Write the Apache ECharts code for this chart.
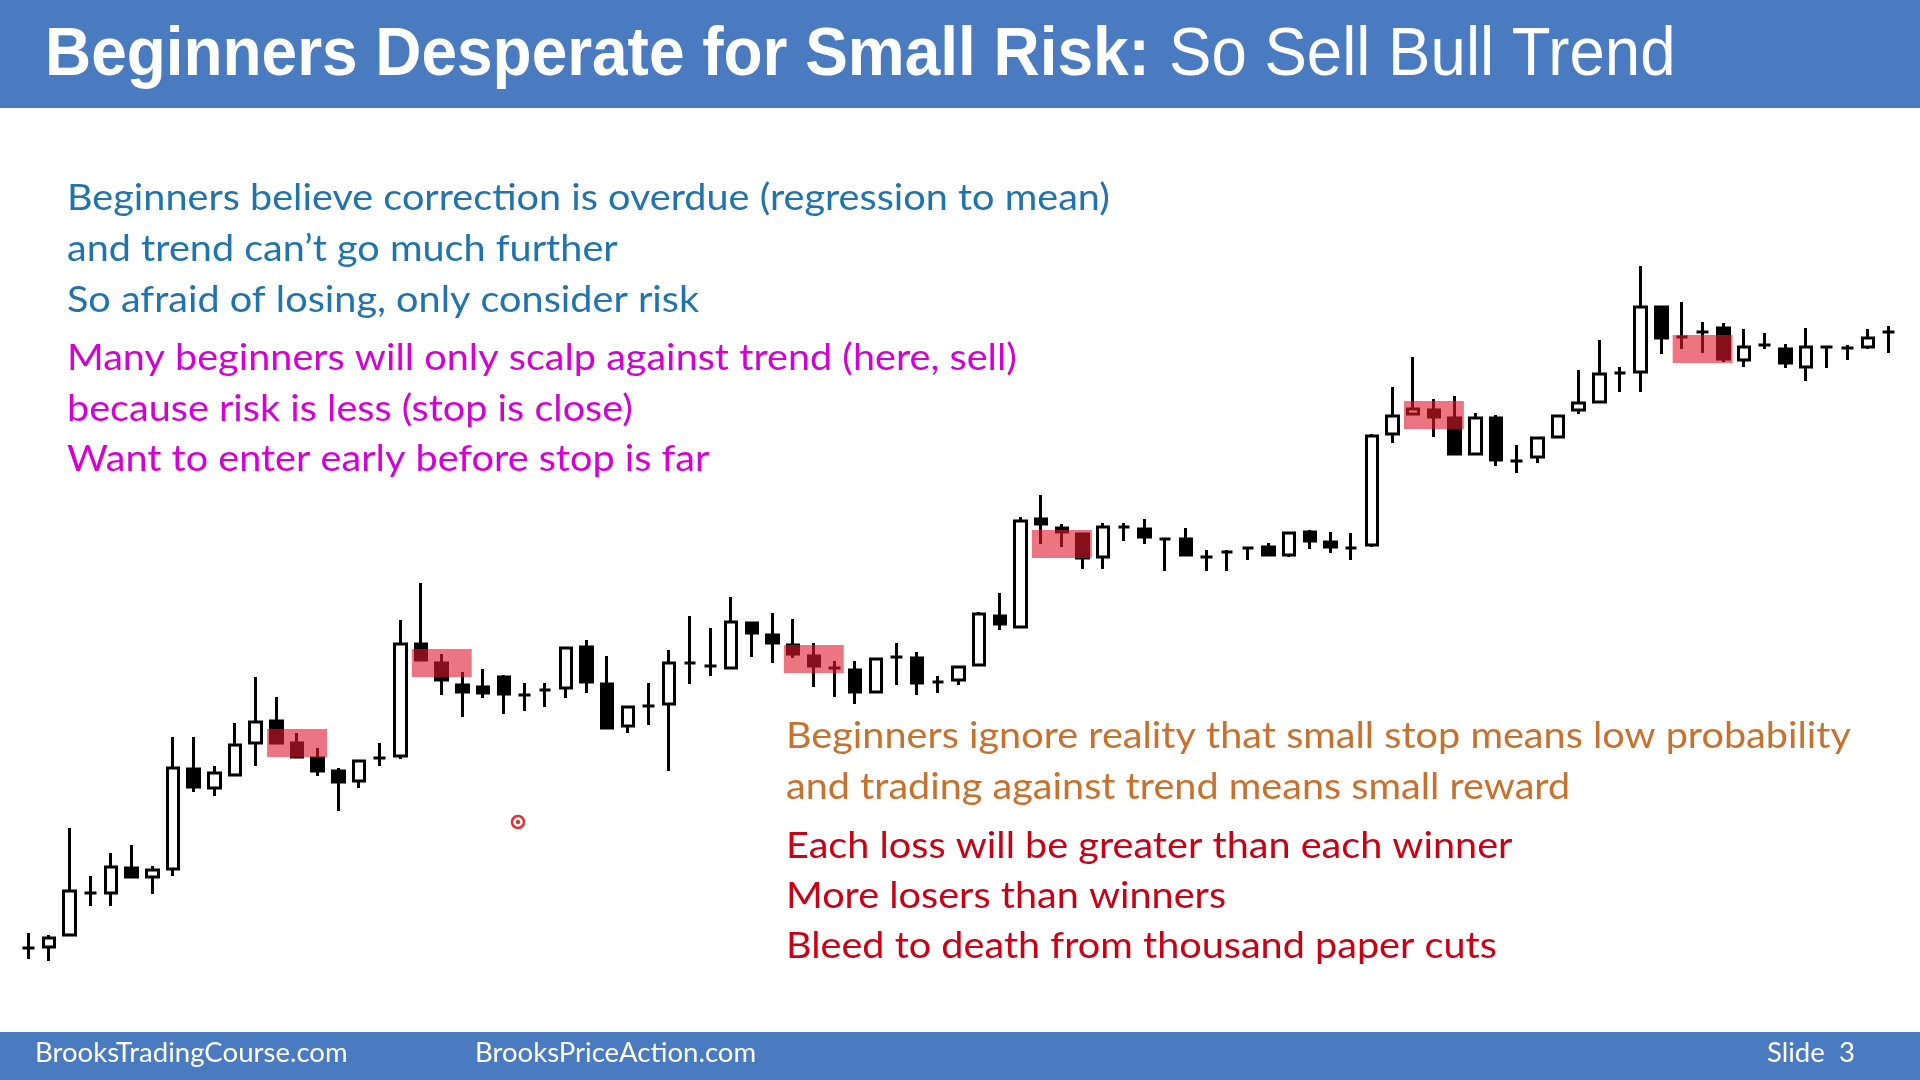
<!DOCTYPE html>
<html>
<head>
    <meta charset="utf-8">
    <title>Beginners Desperate for Small Risk</title>
    <script src="https://cdn.jsdelivr.net/npm/echarts@6/dist/echarts.min.js"></script>
    <style>
        html, body { margin: 0; padding: 0; background: #fff; }
        #main { width: 1920px; height: 1080px; }
    </style>
</head>
<body>
<div id="main"></div>
<script type="text/javascript">
    // bar prices (arbitrary units, higher = up)
    var open  = [52, 53, 65, 107, 107, 132, 123, 131, 231, 212, 225, 257, 279, 257, 242, 229, 219, 242, 244, 356,
                 337, 315, 313, 323, 305, 310, 312, 353, 316, 274, 294, 296, 337, 334, 332, 377, 365, 355, 344, 332,
                 330, 308, 343, 342, 318, 320, 335, 384, 373, 481, 472, 466, 443, 473, 471, 461, 461, 443, 448, 452,
                 453, 445, 468, 458, 452, 455, 566, 586, 590, 582, 546, 582, 539, 543, 563, 590, 598, 627, 628, 693,
                 663, 668, 672, 640, 655, 651, 633, 653, 652, 653, 668];
    var close = [52, 62, 109, 107, 133, 123, 130, 232, 213, 227, 255, 278, 257, 243, 229, 218, 239, 242, 356, 340,
                 320, 308, 307, 306, 305, 310, 352, 318, 272, 293, 294, 337, 337, 334, 378, 367, 357, 346, 334, 332,
                 308, 341, 343, 317, 318, 333, 386, 376, 479, 476, 468, 442, 473, 473, 463, 461, 445, 443, 448, 452,
                 445, 467, 459, 453, 452, 564, 584, 591, 583, 546, 582, 540, 539, 562, 584, 597, 626, 627, 693, 662,
                 663, 668, 641, 653, 655, 637, 653, 653, 652, 662, 668];
    var low   = [41, 39, 65, 94, 94, 123, 106, 124, 208, 204, 225, 234, 257, 243, 224, 189, 212, 234, 241, 340,
                 305, 283, 302, 286, 289, 293, 302, 307, 272, 267, 275, 229, 316, 324, 332, 343, 337, 342, 313, 303,
                 296, 308, 315, 305, 307, 315, 335, 370, 373, 456, 453, 431, 431, 459, 456, 429, 445, 429, 429, 440,
                 445, 443, 451, 447, 440, 453, 557, 586, 563, 546, 546, 534, 527, 537, 563, 586, 598, 608, 608, 646,
                 651, 647, 638, 633, 651, 632, 619, 632, 640, 651, 647];
    var high  = [67, 65, 172, 124, 147, 155, 134, 263, 263, 234, 277, 323, 303, 267, 252, 232, 239, 257, 380, 417,
                 346, 328, 331, 325, 317, 317, 353, 360, 344, 293, 317, 350, 384, 372, 403, 377, 387, 381, 357, 339,
                 339, 342, 357, 348, 324, 334, 388, 407, 483, 505, 476, 466, 477, 477, 481, 461, 472, 450, 450, 453,
                 457, 467, 470, 468, 467, 566, 613, 643, 601, 604, 587, 585, 555, 562, 584, 630, 660, 633, 734, 693,
                 698, 678, 677, 671, 667, 656, 672, 653, 655, 671, 674];

    // shaded zones: first bar, last bar, bottom, top
    var zoneFrom = [12, 19, 37, 49, 67, 80];
    var zoneTo   = [14, 21, 39, 51, 69, 82];
    var zoneLow  = [243, 323, 327, 442, 571, 637];
    var zoneHigh = [271, 351, 355, 470, 599, 665];

    var bars = [];
    var candles = [];
    for (var i = 0; i < open.length; i++) {
        bars.push(String(i + 1));
        candles.push([open[i], close[i], low[i], high[i]]);
    }
    var zones = [];
    for (var j = 0; j < zoneFrom.length; j++) {
        zones.push([zoneFrom[j], zoneTo[j], zoneLow[j], zoneHigh[j]]);
    }

    var bodyFont = '"Lato", "Open Sans", sans-serif';
    var blue = '#1F74AE', magenta = '#D600D6', brown = '#C8712D', red = '#CC0014';

    // Lato is narrower than the slide font, so stretch it a bit
    function line(txt, x, y, color) {
        return {
            type: 'text', x: x, y: y, z: 10, scaleX: 1.1,
            style: { text: txt, fill: color, font: '36px ' + bodyFont, textVerticalAlign: 'middle' }
        };
    }
    function foot(txt, x) {
        return {
            type: 'text', x: x, y: 1054, z: 10, scaleX: 1.06,
            style: { text: txt, fill: '#fff', font: '26px ' + bodyFont, textVerticalAlign: 'middle' }
        };
    }

    var myChart = echarts.init(document.getElementById('main'));
    var option = {
        animation: false,
        backgroundColor: '#fff',
        grid: { left: 18, width: 1881, top: 100, height: 900 },
        xAxis: {
            type: 'category', data: bars, boundaryGap: true, show: false
        },
        yAxis: {
            type: 'value', min: 0, max: 900, show: false, splitLine: { show: false }
        },
        series: [
            {
                type: 'candlestick',
                data: candles,
                barWidth: 12,
                z: 2,
                itemStyle: {
                    color: '#fff', color0: '#000',
                    borderColor: '#000', borderColor0: '#000', borderColorDoji: '#000',
                    borderWidth: 3
                }
            },
            {
                type: 'custom',
                z: 3,
                data: zones,
                encode: { x: [0, 1], y: [2, 3] },
                renderItem: function (params, api) {
                    var a = api.coord([api.value(0), api.value(3)]);
                    var b = api.coord([api.value(1), api.value(2)]);
                    var bw = api.size([1, 0])[0];
                    return {
                        type: 'rect',
                        shape: { x: a[0] - bw * 0.45, y: a[1], width: b[0] - a[0] + bw * 0.9, height: b[1] - a[1] },
                        style: { fill: 'rgba(225,25,45,0.6)' }
                    };
                }
            }
        ],
        graphic: [
            { type: 'rect', z: 5, shape: { x: 0, y: 0, width: 1920, height: 108 }, style: { fill: '#4A7BC0' } },
            { type: 'rect', z: 5, shape: { x: 0, y: 1032, width: 1920, height: 48 }, style: { fill: '#4A7BC0' } },
            {
                type: 'text', x: 45, y: 56, z: 10, scaleX: 0.94,
                style: { text: 'Beginners Desperate for Small Risk:', fill: '#fff',
                    font: 'bold 68px "Liberation Sans", Arial, sans-serif', textVerticalAlign: 'middle' }
            },
            {
                type: 'text', x: 1169, y: 56, z: 10, scaleX: 0.935,
                style: { text: 'So Sell Bull Trend', fill: '#fff',
                    font: '68px "Liberation Sans", Arial, sans-serif', textVerticalAlign: 'middle' }
            },
            line('Beginners believe correction is overdue (regression to mean)', 67, 198, blue),
            line('and trend can\u2019t go much further', 67, 249, blue),
            line('So afraid of losing, only consider risk', 67, 300, blue),
            line('Many beginners will only scalp against trend (here, sell)', 67, 358, magenta),
            line('because risk is less (stop is close)', 67, 409, magenta),
            line('Want to enter early before stop is far', 67, 459, magenta),
            line('Beginners ignore reality that small stop means low probability', 786, 736, brown),
            line('and trading against trend means small reward', 786, 787, brown),
            line('Each loss will be greater than each winner', 786, 846, red),
            line('More losers than winners', 786, 896, red),
            line('Bleed to death from thousand paper cuts', 786, 946, red),
            foot('BrooksTradingCourse.com', 35),
            foot('BrooksPriceAction.com', 475),
            foot('Slide  3', 1767),
            // pointer mark
            { type: 'circle', z: 10, shape: { cx: 518, cy: 822, r: 6 }, style: { fill: '#fff', stroke: '#E03030', lineWidth: 2.5 } },
            { type: 'circle', z: 11, shape: { cx: 518, cy: 822, r: 2.2 }, style: { fill: '#E03030' } }
        ]
    };
    myChart.setOption(option);
</script>
</body>
</html>
